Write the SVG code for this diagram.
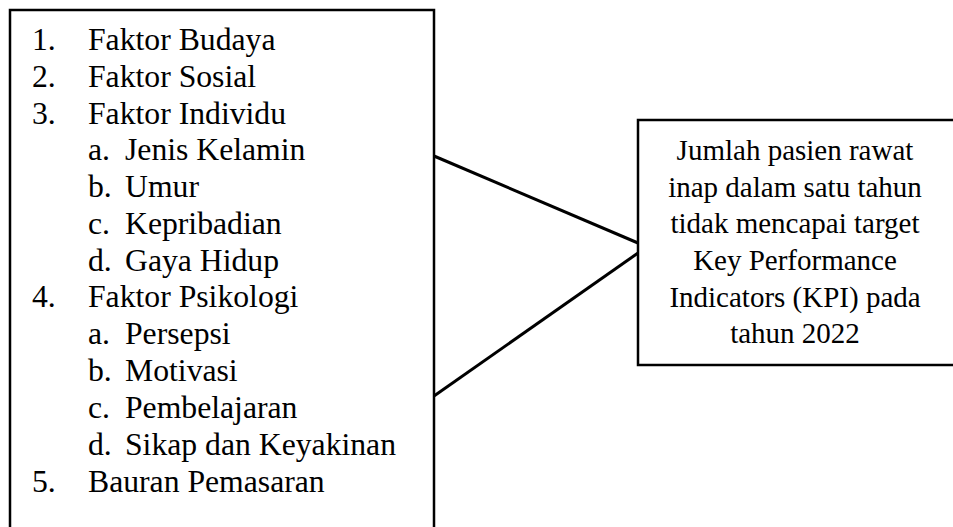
<svg xmlns="http://www.w3.org/2000/svg" width="953" height="527" viewBox="0 0 953 527">
<style>
.box{fill:#fff;stroke:#000;stroke-width:2.5}
.t{font-family:"Liberation Serif","Times New Roman",serif;font-size:31.7px;fill:#000}
.r{font-family:"Liberation Serif","Times New Roman",serif;font-size:29px;fill:#000;text-anchor:middle}
.ln{stroke:#000;stroke-width:3;fill:none}
</style>
<rect width="953" height="527" fill="#fff"/>
<g id="factors">
<path class="box" d="M10,540 V10 H434 V540"/>
<text class="t" x="32" y="50">1.</text><text class="t" x="88" y="50">Faktor Budaya</text>
<text class="t" x="32" y="87">2.</text><text class="t" x="88" y="87">Faktor Sosial</text>
<text class="t" x="32" y="124">3.</text><text class="t" x="88" y="124">Faktor Individu</text>
<text class="t" x="88" y="160">a.</text><text class="t" x="125" y="160">Jenis Kelamin</text>
<text class="t" x="88" y="197">b.</text><text class="t" x="125" y="197">Umur</text>
<text class="t" x="88" y="234">c.</text><text class="t" x="125" y="234">Kepribadian</text>
<text class="t" x="88" y="271">d.</text><text class="t" x="125" y="271">Gaya Hidup</text>
<text class="t" x="32" y="307">4.</text><text class="t" x="88" y="307">Faktor Psikologi</text>
<text class="t" x="88" y="344">a.</text><text class="t" x="125" y="344">Persepsi</text>
<text class="t" x="88" y="381">b.</text><text class="t" x="125" y="381">Motivasi</text>
<text class="t" x="88" y="418">c.</text><text class="t" x="125" y="418">Pembelajaran</text>
<text class="t" x="88" y="455">d.</text><text class="t" x="125" y="455">Sikap dan Keyakinan</text>
<text class="t" x="32" y="492">5.</text><text class="t" x="88" y="492">Bauran Pemasaran</text>
</g>
<g id="outcome">
<rect class="box" x="638" y="120" width="330" height="245"/>
<text class="r" x="795" y="160">Jumlah pasien rawat</text>
<text class="r" x="795" y="197">inap dalam satu tahun</text>
<text class="r" x="795" y="233">tidak mencapai target</text>
<text class="r" x="795" y="270">Key Performance</text>
<text class="r" x="795" y="307">Indicators (KPI) pada</text>
<text class="r" x="795" y="343">tahun 2022</text>
</g>
<g id="connectors">
<line class="ln" x1="434" y1="156" x2="638" y2="243"/>
<line class="ln" x1="434" y1="396" x2="638" y2="253"/>
</g>
</svg>
